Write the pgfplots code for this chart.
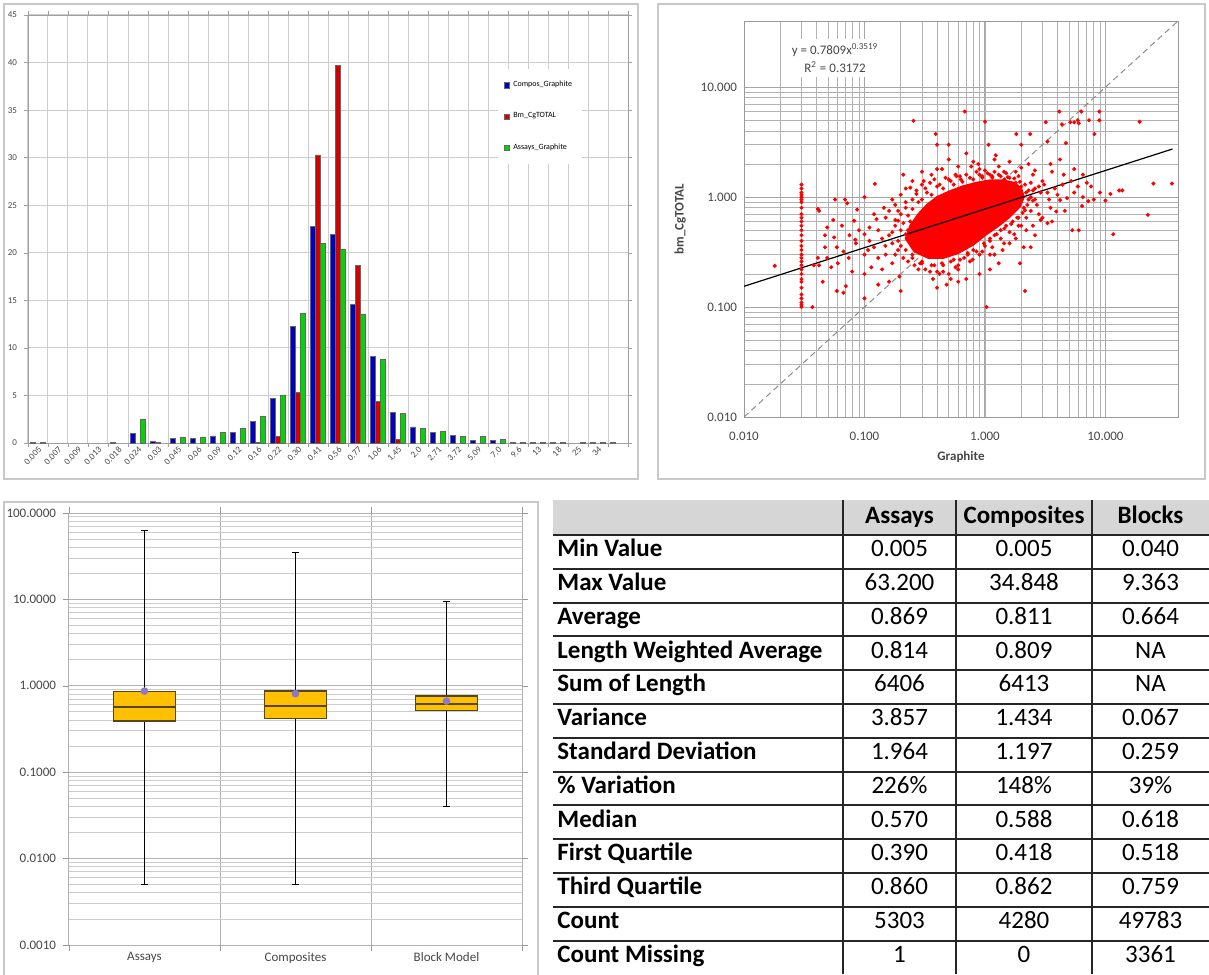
\documentclass[border=0pt]{standalone}
\usepackage{fontspec}
\setmainfont{Carlito}
\usepackage{pgfplots}
\pgfplotsset{compat=1.18}
\usepgfplotslibrary{statistics}

\definecolor{gridc}{RGB}{205,205,205}
\definecolor{framec}{RGB}{200,200,200}
\definecolor{barblue}{RGB}{0,0,200}
\definecolor{barred}{RGB}{210,0,0}
\definecolor{bargreen}{RGB}{0,215,0}
\definecolor{boxfill}{RGB}{255,192,0}
\definecolor{boxedge}{RGB}{85,70,25}
\definecolor{meanc}{RGB}{140,120,205}
\definecolor{hdr}{RGB}{214,214,214}
\definecolor{labc}{RGB}{70,70,70}

\newcommand\tabfont{\fontsize{12.5}{14}\selectfont}

\pgfplotsset{
  /pgfplots/boxplot/box extend=0.41,
  /pgfplots/boxplot/whisker extend=0.04,
  /pgfplots/boxplot/every box/.style={fill=boxfill, draw=boxedge, line width=0.9pt},
  /pgfplots/boxplot/every median/.style={draw=boxedge, line width=0.9pt},
  /pgfplots/boxplot/every whisker/.style={draw=black, line width=0.6pt},
  /pgfplots/boxplot/every average/.style={/tikz/mark=*, /tikz/mark size=1.7pt},
}

\begin{document}
\begin{tikzpicture}
\path[use as bounding box] (0,0) rectangle (604.5pt,-487pt);

% panel frames
\draw[framec, line width=0.8pt] (2pt,-2pt) rectangle (319pt,-239.5pt);
\draw[framec, line width=0.8pt] (329pt,-2pt) rectangle (602.5pt,-239.5pt);
\draw[framec, line width=0.8pt] (2pt,-251pt) rectangle (269pt,-490pt);

% ---------- histogram ----------
\begin{axis}[
    at={(14pt,-221.5pt)}, anchor=south west,
    scale only axis, width=300pt, height=214pt,
    ybar=0pt, bar width=2.5pt,
    xmin=-0.5, xmax=29.5, ymin=0, ymax=45,
    xtick={-0.5,0.5,...,29.5}, xticklabels={}, xmajorgrids,
    extra x ticks={0,...,28},
    extra x tick labels={0.005,0.007,0.009,0.013,0.018,0.024,0.03,0.045,0.06,0.09,0.12,0.16,0.22,0.30,0.41,0.56,0.77,1.06,1.45,2.0,2.71,3.72,5.09,7.0,9.6,13,18,25,34},
    extra x tick style={major tick length=0pt, grid=none},
    ytick={0,5,...,45}, ymajorgrids,
    grid style={gridc, line width=0.5pt},
    axis line style={framec!80!black},
    tick align=outside, major tick length=2pt,
    tick style={framec!80!black},
    x tick label style={rotate=45, anchor=north east, font=\fontsize{4.5}{5}\selectfont, text=labc, inner sep=1pt},
    y tick label style={font=\fontsize{4.5}{5}\selectfont, text=labc},
    /pgf/number format/assume math mode=true,
    legend cell align=left,
    legend style={at={(0.782,0.875)}, anchor=north west, draw=none, fill=white,
        font=\fontsize{4}{5}\selectfont, row sep=7.5pt, inner xsep=3pt, inner ysep=4pt},
    legend image code/.code={\draw[#1] (0pt,-1.3pt) rectangle (2.6pt,1.3pt);},
]
\addplot[fill=barblue, draw=black!60, line width=0.25pt] coordinates {
(0,0.05) (4,0.05) (5,1.05) (6,0.2) (7,0.5) (8,0.5) (9,0.75) (10,1.1) (11,2.27) (12,4.7)
(13,12.25) (14,22.8) (15,21.9) (16,14.6) (17,9.1) (18,3.2) (19,1.7) (20,1.1) (21,0.8)
(22,0.3) (23,0.3) (24,0.05) (25,0.05) (26,0.05) (28,0.05) (29,0.05)};
\addlegendentry{Compos\_Graphite}
\addplot[fill=barred, draw=black!60, line width=0.25pt] coordinates {
(6,0.08) (11,0.05) (12,0.7) (13,5.35) (14,30.3) (15,39.7) (16,18.7) (17,4.35) (18,0.4)};
\addlegendentry{Bm\_CgTOTAL}
\addplot[fill=bargreen, draw=black!60, line width=0.25pt] coordinates {
(0,0.05) (5,2.45) (7,0.63) (8,0.65) (9,1.1) (10,1.55) (11,2.8) (12,5.07) (13,13.65)
(14,21.0) (15,20.4) (16,13.5) (17,8.8) (18,3.1) (19,1.55) (20,1.26) (21,0.7) (22,0.7)
(23,0.4) (24,0.1) (25,0.05) (26,0.05) (27,0.05) (28,0.05)};
\addlegendentry{Assays\_Graphite}
\end{axis}

% ---------- scatter ----------
\begin{axis}[
    at={(372pt,-208.5pt)}, anchor=south west,
    scale only axis, width=217pt, height=198pt,
    xmode=log, ymode=log,
    xmin=0.01, xmax=40, ymin=0.01, ymax=40,
    xtick={0.01,0.1,1,10}, xticklabels={0.010,0.100,1.000,10.000},
    ytick={0.01,0.1,1,10}, yticklabels={0.010,0.100,1.000,10.000},
    grid=both,
    major grid style={black!35, line width=0.5pt},
    minor grid style={black!30, line width=0.4pt},
    axis line style={black!40},
    tick style={draw=none},
    tick label style={font=\fontsize{6.5}{7}\selectfont, text=labc},
    xticklabel style={yshift=-4pt},
    /pgf/number format/assume math mode=true,
    xlabel={\textbf{Graphite}}, ylabel={\textbf{bm\_CgTOTAL}},
    label style={font=\fontsize{6.5}{7}\selectfont, text=labc},
    xlabel style={at={(axis description cs:0.5,-0.101)}, anchor=center},
    ylabel style={at={(axis description cs:-0.147,0.5)}, anchor=center},
]
\addplot[black!45, densely dashed, line width=0.5pt] coordinates {(0.01,0.01) (40,40)};
% dense core of the cloud
\addplot[fill=red, draw=red, line width=1pt] coordinates {
(0.22,0.42) (0.24,0.55) (0.28,0.7) (0.33,0.85) (0.4,1.0) (0.5,1.12) (0.65,1.25)
(0.85,1.35) (1.1,1.42) (1.4,1.42) (1.75,1.35) (2.0,1.2) (2.1,1.0) (1.95,0.82)
(1.6,0.66) (1.3,0.55) (1.0,0.45) (0.8,0.37) (0.6,0.31) (0.45,0.28) (0.34,0.28)
(0.26,0.32)} --cycle;
\addplot[only marks, mark=*, mark size=0.8pt, red, mark options={draw=red, fill=red}] coordinates {
(0.018,0.237)
(0.03,0.1) (0.03,0.105) (0.03,0.11) (0.03,0.12) (0.03,0.13) (0.03,0.15) (0.03,0.17) (0.03,0.18)
(0.03,0.2) (0.03,0.22) (0.03,0.24) (0.03,0.26) (0.03,0.28) (0.03,0.3) (0.03,0.33) (0.03,0.36)
(0.03,0.4) (0.03,0.45) (0.03,0.5) (0.03,0.55) (0.03,0.6) (0.03,0.65) (0.03,0.7) (0.03,0.8)
(0.03,0.9) (0.03,0.95) (0.03,1.0) (0.03,1.05) (0.03,1.1) (0.03,1.2) (0.03,1.3)
(0.037,0.1) (0.041,0.78) (0.042,0.24) (0.049,0.53) (0.042,0.75) (0.047,0.45) (0.056,0.43)
(0.047,0.35) (0.041,0.28) (0.049,0.28) (0.053,0.23) (0.059,0.35) (0.067,0.32) (0.074,0.28)
(0.079,0.21) (0.07,0.155) (0.059,0.14) (0.067,0.135) (0.1,0.12) (0.045,0.17) (0.038,0.24)
(0.084,0.41) (0.1,0.46) (0.11,0.53) (0.126,0.63) (0.145,0.8) (0.17,0.95) (0.195,0.19)
(0.2,0.14) (0.114,0.23) (0.13,0.28) (0.149,0.36) (0.107,0.33)
(0.122,1.32) (0.1,1.0) (0.069,0.95) (0.057,0.95) (0.087,0.77) (0.072,0.88) (0.082,0.61)
(0.255,4.95) (0.68,6.0) (1.0,4.85) (0.39,3.75) (0.4,3.0) (0.5,3.0) (1.07,3.0) (1.23,2.4)
(1.82,3.75) (2.37,3.75) (2.0,3.0) (3.2,4.8) (3.3,3.2) (4.14,6.0) (4.35,4.6) (4.7,3.1)
(5.1,4.8) (5.5,4.8) (5.9,5.0) (6.3,6.0) (6.0,4.7) (7.3,5.0) (8.1,3.75) (8.9,5.0) (8.9,6.0)
(19.2,4.85) (11.0,1.07) (13.0,1.15) (13.8,1.15) (10,0.93) (25,1.33) (35.6,1.33) (22.5,0.69)
(11.6,0.46) (7.6,1.25) (7.2,0.92) (6.4,0.83) (6.0,0.5) (5.3,0.5) (4.6,0.75) (4.2,0.94)
(3.9,0.74) (3.6,0.6) (3.3,0.58) (2.9,0.62) (2.5,0.55) (2.4,0.35) (2.1,0.35) (1.95,0.25)
(2.15,0.14) (1.03,0.1)
(0.21,1.6) (0.31,1.4) (0.36,1.6) (0.44,1.8) (0.57,1.6) (0.77,1.9) (0.88,2.0) (1.1,1.6)
(1.44,1.7) (2.0,1.85) (2.5,1.6) (3.0,1.4) (3.6,1.7) (4.5,1.6) (5.2,1.4) (5.9,1.25)
(2.8,1.25) (3.3,1.1) (2.5,0.93) (2.15,0.76) (2.0,0.55) (1.75,0.46) (1.44,0.38) (1.1,0.3)
(0.79,0.27) (0.57,0.23) (0.52,0.18) (0.42,0.2) (0.37,0.18) (0.29,0.25) (0.25,0.3)
(0.22,0.46) (0.19,0.61) (0.22,0.8) (0.27,1.07) (0.24,1.22)
(0.16,0.45) (0.17,0.38) (0.18,0.55) (0.19,0.33) (0.2,0.7) (0.21,0.28) (0.22,0.9) (0.23,0.5)
(0.24,0.6) (0.25,0.95) (0.26,0.24) (0.27,1.15) (0.28,0.36) (0.3,1.3) (0.3,0.26) (0.32,0.22)
(0.33,1.1) (0.35,1.35) (0.36,0.24) (0.38,1.45) (0.4,0.21) (0.42,1.3) (0.44,0.25) (0.47,1.5)
(0.5,0.2) (0.52,1.4) (0.55,0.27) (0.58,1.55) (0.6,0.24) (0.63,1.45) (0.67,0.28) (0.7,1.6)
(0.72,0.3) (0.75,1.5) (0.8,0.33) (0.85,1.7) (0.9,0.3) (0.95,1.55) (1.0,0.36) (1.05,1.65)
(1.1,0.4) (1.15,1.5) (1.2,0.45) (1.3,1.6) (1.35,0.5) (1.45,1.45) (1.5,0.55) (1.6,1.5)
(1.7,0.6) (1.8,1.35) (1.9,0.65) (2.0,1.25) (2.1,0.8) (2.2,1.1) (2.3,0.95) (2.4,1.0)
(2.6,1.2) (2.7,0.85) (2.9,1.1) (3.1,1.3) (3.4,0.95) (3.8,1.2) (4.0,1.05) (4.4,1.3)
(4.8,0.98) (5.5,1.1) (6.5,1.0) (7.0,1.35) (8.0,0.95) (9.0,1.1)
(0.12,0.35) (0.13,0.5) (0.14,0.42) (0.15,0.3) (0.15,0.65) (0.16,0.75) (0.17,0.25) (0.18,0.85)
(0.12,0.7) (0.11,0.4) (0.1,0.3) (0.09,0.5) (0.085,0.38) (0.075,0.45) (0.065,0.55) (0.06,0.25)
(0.055,0.62) (0.1,0.2) (0.14,0.22) (0.16,0.17) (0.13,0.16)
(1.2,0.3) (1.4,0.33) (1.6,0.38) (1.8,0.42) (2.2,0.5) (2.6,0.45) (3.0,0.65) (3.5,0.8)
(2.8,0.7) (1.3,0.25) (1.1,0.22) (0.9,0.2) (0.7,0.18) (0.6,0.17) (0.48,0.16) (0.4,0.15)
(0.4,1.8) (0.5,2.2) (0.6,1.9) (0.7,2.5) (0.8,2.1) (0.9,1.8) (1.2,2.2) (1.3,1.9) (1.6,2.1)
(1.8,1.7) (2.3,2.0) (2.6,1.75) (3.5,2.0) (4.2,2.2) (5.5,1.8) (6.5,1.6) (0.3,1.7) (0.25,1.4)
(0.22,1.2) (0.2,1.05)
(0.3,0.95) (0.36,1.05) (0.45,1.2) (0.55,1.3) (0.65,1.38) (0.8,1.45) (0.95,1.5) (1.15,1.55)
(1.35,1.55) (1.55,1.52) (1.75,1.48) (1.95,1.38) (2.15,1.3) (2.3,1.15)
(0.25,0.28) (0.3,0.25) (0.38,0.24) (0.45,0.24) (0.52,0.26) (0.62,0.27) (0.72,0.31) (0.85,0.32)
(0.98,0.38) (1.1,0.42) (1.25,0.46) (1.45,0.52) (1.65,0.57) (1.85,0.65) (2.05,0.72) (2.25,0.85)
(0.19,0.4) (0.2,0.5) (0.21,0.58) (0.23,0.68) (0.25,0.78) (0.2,0.36) (0.22,0.33)
(0.28,0.9) (0.32,1.2) (0.4,1.25) (0.5,1.45) (0.62,1.55) (0.9,1.6) (1.0,1.75) (1.2,1.7)
(1.5,1.65) (1.9,1.55) (2.4,1.35) (2.5,1.15) (2.6,0.95) (2.4,0.75) (2.2,0.65) (1.9,0.55)
(1.6,0.48) (1.35,0.42) (1.15,0.35) (0.95,0.32) (0.75,0.26) (0.6,0.22) (0.45,0.21) (0.35,0.21)
(0.28,0.22) (0.23,0.26) (0.18,0.3) (0.17,0.48) (0.18,0.62) (0.19,0.75)};
\addplot[black, line width=0.6pt] coordinates {(0.01,0.1545) (36,2.74)};
\end{axis}
\node[fill=white, inner sep=2pt, align=center, text=labc, font=\fontsize{6.5}{9}\selectfont]
  at (417.5pt,-29pt) {y = 0.7809x\textsuperscript{0.3519}\\R\textsuperscript{2} = 0.3172};

% ---------- box plot ----------
\begin{axis}[
    at={(34.5pt,-472.5pt)}, anchor=south west,
    scale only axis, width=226.5pt, height=216pt,
    ymode=log, ymin=0.001, ymax=100,
    xmin=0.5, xmax=3.5,
    xtick={0.5,1.5,2.5,3.5}, xticklabels={}, xmajorgrids,
    extra x ticks={1,2,3}, extra x tick labels={Assays,Composites,Block Model},
    extra x tick style={major tick length=0pt, grid=none},
    ytick={0.001,0.01,0.1,1,10,100},
    yticklabels={0.0010,0.0100,0.1000,1.0000,10.0000,100.0000},
    ymajorgrids, yminorgrids,
    major grid style={black!30, line width=0.5pt},
    minor grid style={black!20, line width=0.5pt},
    axis line style={black!35},
    x axis line style={draw=none},
    tick align=outside, major tick length=3pt, minor tick length=0pt,
    tick style={black!40},
    tick label style={font=\fontsize{6.5}{7}\selectfont, text=labc},
    /pgf/number format/assume math mode=true,
    boxplot/draw direction=y,
]
\addplot[meanc, mark options={fill=meanc, draw=meanc},
    boxplot prepared={draw position=1, median=0.57, lower quartile=0.39, upper quartile=0.86,
    lower whisker=0.005, upper whisker=63.2, average=0.869}] coordinates {};
\addplot[meanc, mark options={fill=meanc, draw=meanc},
    boxplot prepared={draw position=2, median=0.588, lower quartile=0.418, upper quartile=0.862,
    lower whisker=0.005, upper whisker=34.848, average=0.811}] coordinates {};
\addplot[meanc, mark options={fill=meanc, draw=meanc},
    boxplot prepared={draw position=3, median=0.618, lower quartile=0.518, upper quartile=0.759,
    lower whisker=0.04, upper whisker=9.363, average=0.664}] coordinates {};
\end{axis}

% ---------- summary table ----------
\fill[hdr] (276.5pt,-250pt) rectangle (604.5pt,-267.5pt);
\foreach \x/\t in {449.75/Assays,512/Composites,575.25/Blocks}
  \node[anchor=mid, font=\tabfont\bfseries] at (\x pt,-259.5pt) {\t};
\foreach \i/\lab/\a/\b/\c in {1/Min Value/0.005/0.005/0.040,
    2/Max Value/63.200/34.848/9.363,
    3/Average/0.869/0.811/0.664,
    4/Length Weighted Average/0.814/0.809/NA,
    5/Sum of Length/6406/6413/NA,
    6/Variance/3.857/1.434/0.067,
    7/Standard Deviation/1.964/1.197/0.259,
    8/\% Variation/226\%/148\%/39\%,
    9/Median/0.570/0.588/0.618,
    10/First Quartile/0.390/0.418/0.518,
    11/Third Quartile/0.860/0.862/0.759,
    12/Count/5303/4280/49783,
    13/Count Missing/1/0/3361}
{
  \pgfmathsetmacro\yc{-(535+33.8*(\i-0.5))*0.5}
  \pgfmathsetmacro\ys{-(535+33.8*\i)*0.5}
  \node[anchor=mid west, font=\tabfont\bfseries, inner xsep=0pt] at (278.5pt,\yc pt) {\lab};
  \node[anchor=mid, font=\tabfont] at (449.75pt,\yc pt) {\a};
  \node[anchor=mid, font=\tabfont] at (512pt,\yc pt) {\b};
  \node[anchor=mid, font=\tabfont] at (575.25pt,\yc pt) {\c};
  \ifnum\i<13 \draw[black!85, line width=1pt] (276.5pt,\ys pt) -- (604.5pt,\ys pt);\fi
}
\draw[black!85, line width=1pt] (276.5pt,-267.5pt) -- (604.5pt,-267.5pt);
\foreach \x in {421.5,478,546}
  \draw[black!85, line width=0.8pt] (\x pt,-250pt) -- (\x pt,-487pt);
\end{tikzpicture}
\end{document}
